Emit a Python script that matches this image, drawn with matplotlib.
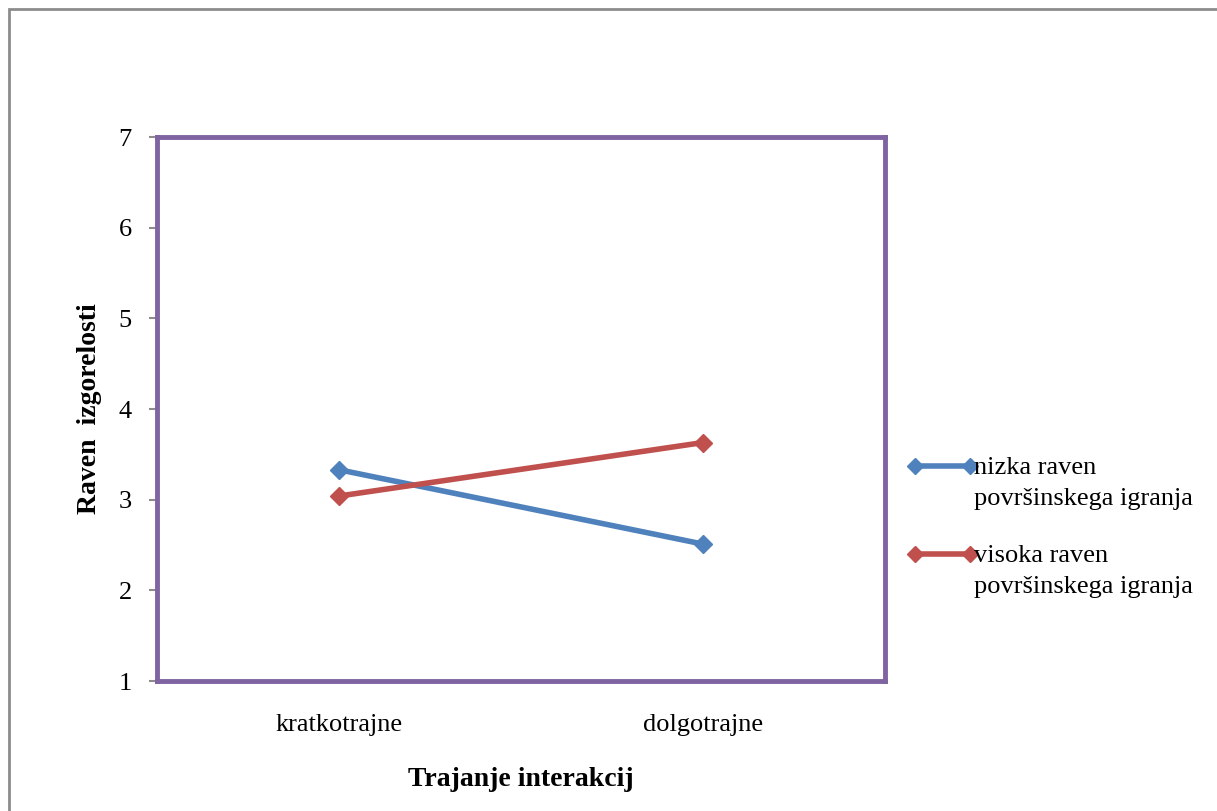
import matplotlib.pyplot as plt
from matplotlib.patches import Rectangle
from matplotlib.lines import Line2D

# Data
categories = ['kratkotrajne', 'dolgotrajne']
low_surface = [3.33, 2.51]
high_surface = [3.04, 3.63]
series_labels = ['nizka raven\npovršinskega igranja', 'visoka raven\npovršinskega igranja']
yticks = [1, 2, 3, 4, 5, 6, 7]

plt.rcParams['font.family'] = 'Liberation Serif'

W, H = 1217, 811
fig = plt.figure(figsize=(W / 100, H / 100), dpi=100)
fig.patch.set_facecolor('white')

# outer chart border (only left/top edges visible in the crop)
fig.patches.append(Rectangle((9 / W, -0.1), 1.2, 1 - 9 / H + 0.1,
                             transform=fig.transFigure, fill=False,
                             edgecolor='#8c8c8c', linewidth=2))

ax = fig.add_axes([157 / W, 1 - 681 / H, 728 / W, 544 / H])

x = range(len(categories))
blue = '#4f81bd'
red = '#c0504d'
ax.plot(x, low_surface, color=blue, lw=4, marker='D', ms=9)
ax.plot(x, high_surface, color=red, lw=4, marker='D', ms=9)

ax.set_xlim(-0.5, 1.5)
ax.set_ylim(1, 7)
ax.set_yticks(yticks)
ax.set_xticks(list(x))
ax.set_xticklabels(categories, fontsize=19)
ax.tick_params(axis='x', length=0, pad=24)
ax.tick_params(axis='y', length=6, width=1.5, color='#8c8c8c', labelsize=19, pad=12)

for s in ax.spines.values():
    s.set_color('#8064a2')
    s.set_linewidth(3.5)

ax.set_xlabel('Trajanje interakcij', fontsize=20, fontweight='bold', labelpad=22)
ax.set_ylabel('Raven  izgorelosti', fontsize=20, fontweight='bold', labelpad=12)

# legend: marker line aligned with the first text line
legend_items = [(blue, 466, series_labels[0]), (red, 554, series_labels[1])]
for color, ypx, label in legend_items:
    yf = 1 - ypx / H
    fig.add_artist(Line2D([915 / W, 970 / W], [yf, yf], transform=fig.transFigure,
                          color=color, lw=4, marker='D', ms=8))
    fig.text(974 / W, 1 - (ypx - 9) / H, label, fontsize=19, va='top', ha='left',
             linespacing=1.55)

fig.savefig('out.png', dpi=100, facecolor='white')
